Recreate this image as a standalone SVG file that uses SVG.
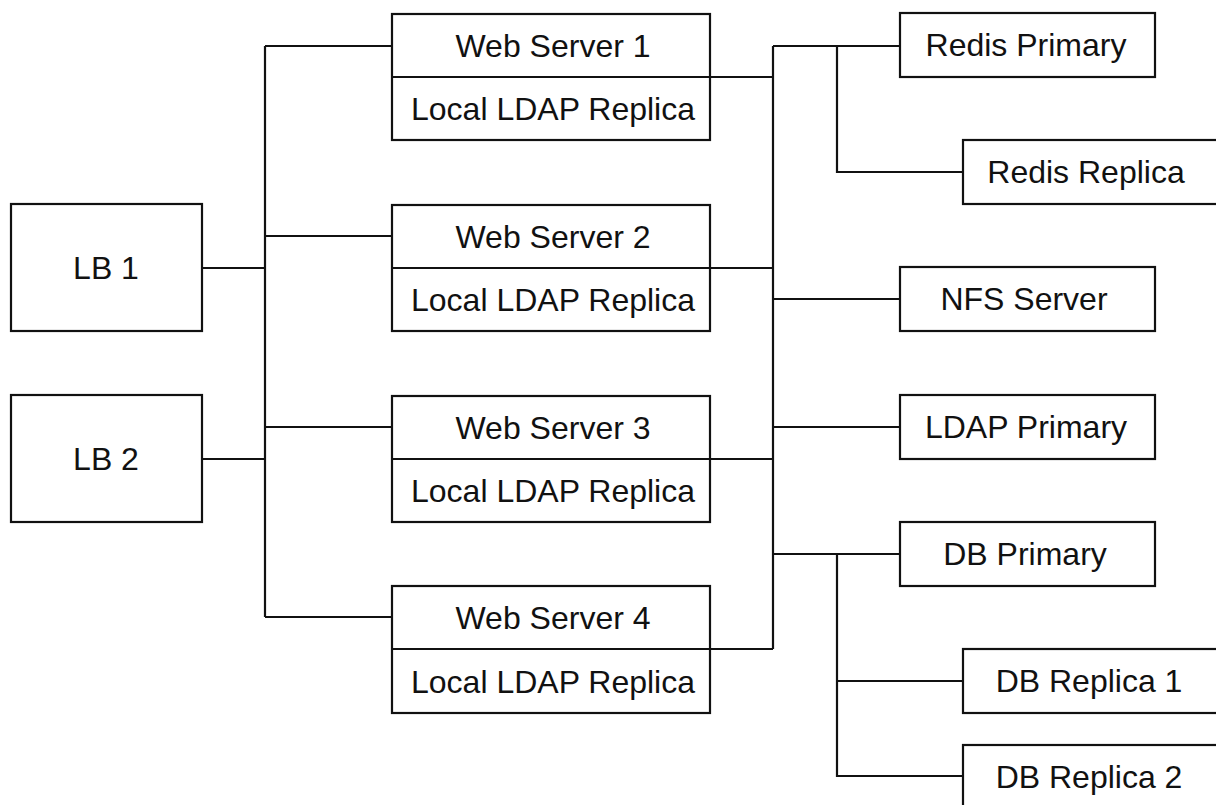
<svg xmlns="http://www.w3.org/2000/svg" width="1216" height="805" viewBox="0 0 1216 805">
<style>
.box{fill:#fff;stroke:#111;stroke-width:2.2}
.ln{fill:none;stroke:#111;stroke-width:2.2}
text{font-family:"Liberation Sans",Arial,sans-serif;font-size:32px;fill:#111;text-anchor:middle}
</style>
<rect width="1216" height="805" fill="#fff"/>
<g id="connectors">
<path class="ln" d="M202 268H265M202 459H265M265 46V617M265 46H392M265 236H392M265 427H392M265 617H392"/>
<path class="ln" d="M710 77H773M710 268H773M710 459H773M710 649H773M773 46V649M773 46H900M773 299H900M773 427H900M773 554H900"/>
<path class="ln" d="M837 46V172H963M837 554V776H963M837 681H963"/>
</g>
<g id="lb1"><rect class="box" x="11" y="204" width="191" height="127"/><text x="106" y="279">LB 1</text></g>
<g id="lb2"><rect class="box" x="11" y="395" width="191" height="127"/><text x="106" y="470">LB 2</text></g>
<g id="ws1"><rect class="box" x="392" y="14" width="318" height="126"/><path class="ln" d="M392 77H710"/><text x="553" y="57">Web Server 1</text><text x="553" y="120">Local LDAP Replica</text></g>
<g id="ws2"><rect class="box" x="392" y="205" width="318" height="126"/><path class="ln" d="M392 268H710"/><text x="553" y="248">Web Server 2</text><text x="553" y="311">Local LDAP Replica</text></g>
<g id="ws3"><rect class="box" x="392" y="396" width="318" height="126"/><path class="ln" d="M392 459H710"/><text x="553" y="439">Web Server 3</text><text x="553" y="502">Local LDAP Replica</text></g>
<g id="ws4"><rect class="box" x="392" y="586" width="318" height="127"/><path class="ln" d="M392 649H710"/><text x="553" y="629">Web Server 4</text><text x="553" y="693">Local LDAP Replica</text></g>
<g id="redis-primary"><rect class="box" x="900" y="13" width="255" height="64"/><text x="1026" y="56">Redis Primary</text></g>
<g id="redis-replica"><rect class="box" x="963" y="140" width="255" height="64"/><text x="1086" y="183">Redis Replica</text></g>
<g id="nfs"><rect class="box" x="900" y="267" width="255" height="64"/><text x="1024" y="310">NFS Server</text></g>
<g id="ldap-primary"><rect class="box" x="900" y="395" width="255" height="64"/><text x="1026" y="438">LDAP Primary</text></g>
<g id="db-primary"><rect class="box" x="900" y="522" width="255" height="64"/><text x="1025" y="565">DB Primary</text></g>
<g id="db-replica-1"><rect class="box" x="963" y="649" width="255" height="64"/><text x="1089" y="692">DB Replica 1</text></g>
<g id="db-replica-2"><rect class="box" x="963" y="745" width="255" height="64"/><text x="1089" y="788">DB Replica 2</text></g>
</svg>
